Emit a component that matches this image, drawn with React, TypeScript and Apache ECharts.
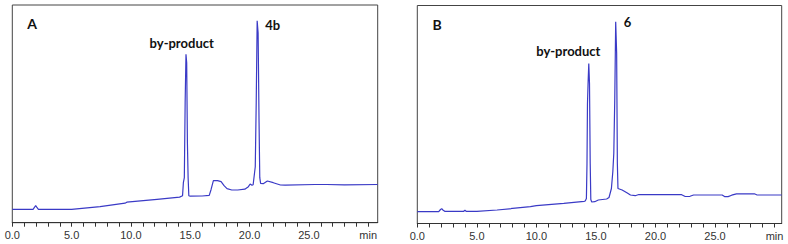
import React, { useEffect, useRef } from "react";
import * as echarts from "echarts";

// Panel A: retention time (min) and detector signal
const timeA = [0, 1.75, 1.88, 1.97, 2.06, 2.2, 5.0, 7.4, 9.5, 9.65, 12.2, 14.1, 14.35, 14.42, 14.5, 14.57, 14.64, 14.7, 14.76, 14.82, 14.88, 15.0, 16.0, 16.6, 16.75, 16.95, 17.3, 17.6, 17.85, 18.1, 18.5, 19.0, 19.6, 19.9, 20.05, 20.2, 20.3, 20.42, 20.48, 20.56, 20.64, 20.72, 20.8, 20.86, 20.93, 21.15, 21.5, 22.0, 22.6, 23.0, 25.5, 26.5, 28.0, 30.8];
const signalA = [13.4, 13.4, 15.5, 17, 15.5, 13.4, 13.4, 16, 19.5, 20.5, 23.4, 25.6, 27, 40, 45, 120, 168.4, 160, 80, 45, 27, 26.5, 26.7, 27.3, 33, 42, 42, 41, 37, 34, 32.7, 32.7, 33.5, 36, 38.7, 37.5, 38, 50, 56, 120, 202, 190, 100, 45, 39.4, 39, 41.7, 40, 37.7, 37.5, 38.2, 38.2, 37.9, 38.2];

// Panel B
const timeB = [0, 1.8, 1.95, 2.05, 2.15, 2.3, 3.9, 4.0, 4.1, 5.0, 6.7, 9.5, 10.0, 12.3, 14.0, 14.1, 14.2, 14.25, 14.29, 14.34, 14.4, 14.46, 14.52, 14.57, 14.65, 14.9, 15.2, 15.9, 16.1, 16.3, 16.42, 16.5, 16.58, 16.66, 16.74, 16.8, 16.85, 17.2, 17.6, 17.9, 18.3, 18.6, 22.2, 22.5, 22.9, 23.2, 25.6, 25.8, 26.1, 26.4, 26.8, 28.3, 28.5, 30.6];
const signalB = [11.8, 11.8, 14.0, 14.8, 13.5, 12.2, 12.2, 13.2, 12.2, 12.2, 13.5, 16.8, 17.8, 20.2, 22.2, 22.5, 25, 60, 120, 140, 160, 140, 60, 24, 21.5, 21.8, 23.5, 24.5, 26, 35, 52, 70, 123, 201.8, 170, 60, 35, 33.5, 30.8, 28.5, 27.8, 29, 28.8, 27, 27.2, 28.5, 28.5, 26.9, 26.9, 28.3, 29.7, 29.7, 28.7, 28.5];

// Axis tick values
const majorStep = 5;
const endLabelValue = 30;
const endLabel = "min";

const panelLetters = ["A", "B"];
const peakLabels = [
  ["by-product", "4b"],
  ["by-product", "6"],
];

const lineColor = "#3a3ac6";

function xAxisFor(grid: number, max: number) {
  return {
    gridIndex: grid,
    type: "value",
    min: 0,
    max,
    interval: 1,
    axisLine: { show: true, onZero: false, lineStyle: { color: "#333", width: 1 } },
    axisTick: { show: true, length: 4, lineStyle: { color: "#333" } },
    axisLabel: {
      fontFamily: "Liberation Sans",
      fontSize: 11,
      color: "#333",
      margin: 7,
      showMaxLabel: false,
      formatter: (v: number) => {
        if (Math.abs(v - endLabelValue) < 1e-6) return endLabel;
        if (v > endLabelValue) return "";
        return Math.abs(v % majorStep) < 1e-6 ? v.toFixed(1) : "";
      },
    },
    splitLine: { show: false },
  };
}

export default function App() {
  const ref = useRef<HTMLDivElement>(null);
  useEffect(() => {
    if (!ref.current) return;
    const chart = echarts.init(ref.current, undefined, { renderer: "svg" });
    const boldFont = (size: number) => ({
      fontFamily: "Lato",
      fontWeight: "bold",
      fontSize: size,
      fill: "#111",
      align: "center",
      verticalAlign: "middle",
    });
    chart.setOption({
      animation: false,
      backgroundColor: "#fff",
      grid: [
        { left: 12.3, top: 5, width: 365.4, height: 217.7, show: true, borderColor: "#444", borderWidth: 1 },
        { left: 417.3, top: 5.5, width: 364.4, height: 218, show: true, borderColor: "#444", borderWidth: 1 },
      ],
      xAxis: [xAxisFor(0, 30.8), xAxisFor(1, 30.6)],
      yAxis: [
        { gridIndex: 0, type: "value", min: 0, max: 217.7, show: false },
        { gridIndex: 1, type: "value", min: 0, max: 218, show: false },
      ],
      series: [
        {
          type: "line",
          xAxisIndex: 0,
          yAxisIndex: 0,
          data: timeA.map((t, i) => [t, signalA[i]]),
          showSymbol: false,
          symbol: "none",
          lineStyle: { color: lineColor, width: 1.2 },
        },
        {
          type: "line",
          xAxisIndex: 1,
          yAxisIndex: 1,
          data: timeB.map((t, i) => [t, signalB[i]]),
          showSymbol: false,
          symbol: "none",
          lineStyle: { color: lineColor, width: 1.2 },
        },
      ],
      graphic: [
        { type: "text", x: 32, y: 23, style: { text: panelLetters[0], ...boldFont(14) } },
        { type: "text", x: 181.7, y: 42.5, style: { text: peakLabels[0][0], ...boldFont(13) } },
        { type: "text", x: 272.7, y: 25, style: { text: peakLabels[0][1], ...boldFont(13) } },
        { type: "text", x: 437.2, y: 24.3, style: { text: panelLetters[1], ...boldFont(14) } },
        { type: "text", x: 568.3, y: 50.5, style: { text: peakLabels[1][0], ...boldFont(13) } },
        { type: "text", x: 627.5, y: 21.7, style: { text: peakLabels[1][1], ...boldFont(13) } },
      ],
    });
    return () => chart.dispose();
  }, []);
  return (
    <div
      ref={ref}
      style={{ position: "fixed", left: 0, top: 0, width: 788, height: 244, background: "#fff" }}
    />
  );
}
